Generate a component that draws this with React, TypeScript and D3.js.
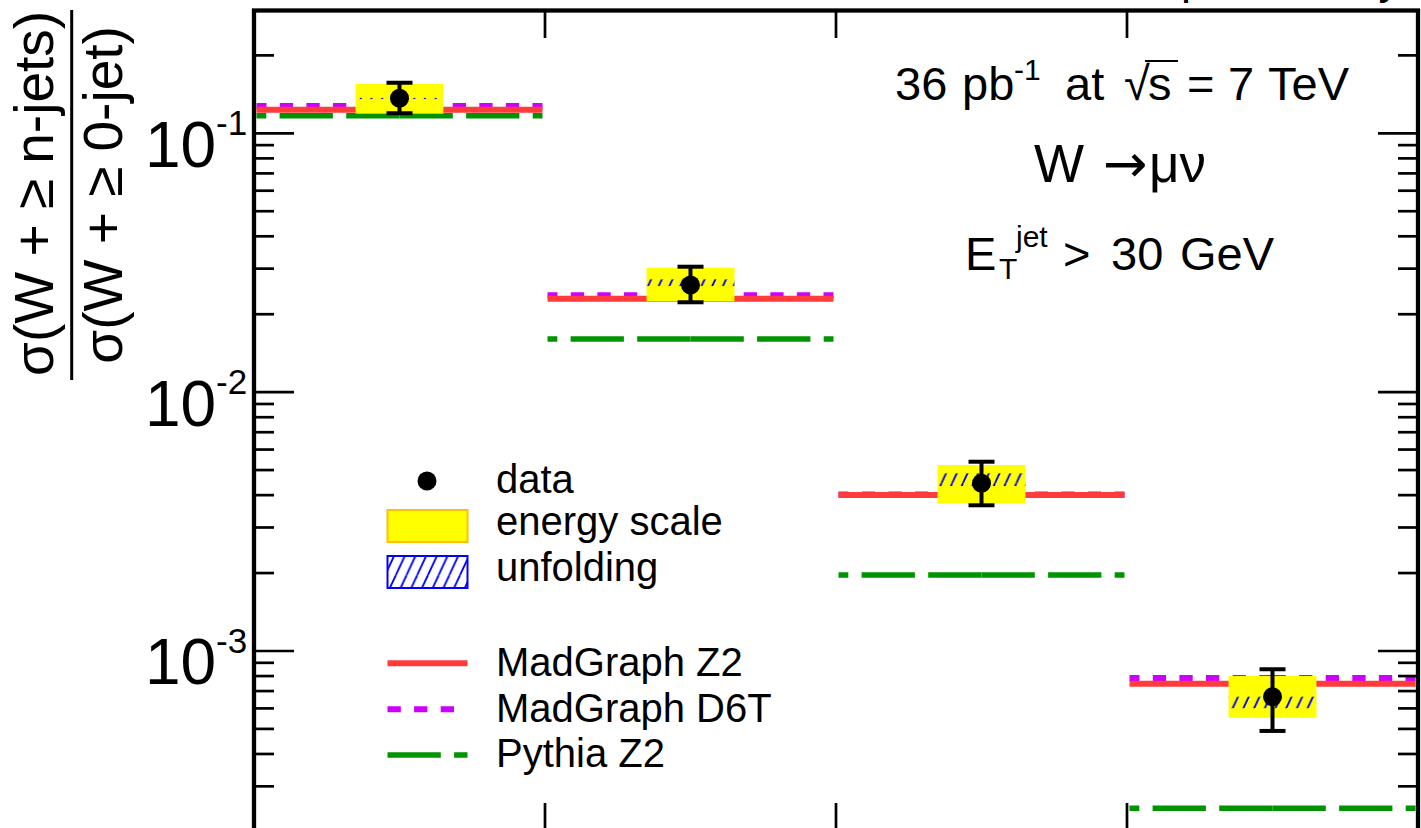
import React from 'react';
import * as d3 from 'd3';

// ---------- data ----------
const bins = [1, 2, 3, 4];
const dataValues = [0.1365, 0.02594, 0.004445, 0.000666];
const statUp = [0.1568, 0.03052, 0.005385, 0.00085];
const statDown = [0.1195, 0.02224, 0.003655, 0.000491];
const energyUp = [0.155, 0.03025, 0.005231, 0.0008];
const energyDown = [0.1191, 0.02244, 0.00372, 0.000552];
const unfoldUp = [0.137, 0.02729, 0.004859, 0.000666];
const unfoldDown = [0.136, 0.0257, 0.004338, 0.000601];
const madgraphZ2 = [0.1234, 0.02296, 0.004006, 0.000747];
const madgraphD6T = [0.1274, 0.02366, 0.00402, 0.000786];
const pythiaZ2 = [0.1169, 0.01605, 0.001966, 0.000247];
const yMajorTicks = [1e-1, 1e-2, 1e-3];
const yTickExponents = ['-1', '-2', '-3'];
const xTickEdges = [1.5, 2.5, 3.5];
const legendLabels = ['data', 'energy scale', 'unfolding', 'MadGraph Z2', 'MadGraph D6T', 'Pythia Z2'];

// ---------- layout ----------
const W = 1421;
const H = 828;
const FONT = "'Liberation Sans', Arial, Helvetica, sans-serif";
const RED = '#ff3b3b';
const MAGENTA = '#cc00ff';
const GREEN = '#009400';
const YELLOW = '#ffff00';
const BLUE = '#0000ff';

const x = d3.scaleLinear().domain([0.5, 4.5]).range([254, 1418]);
const y = d3.scaleLog().domain([2e-4, 0.3]).range([831.9, 9.8]);

const minorTicks: number[] = [];
for (let e = -4; e <= -1; e++) {
  for (let m = 2; m <= 9; m++) {
    const v = m * Math.pow(10, e);
    if (v > 2e-4 * 1.001 && v < 0.3 * 0.999) minorTicks.push(v);
  }
}

function ModelLine({ values, color, width, dash }: { values: number[]; color: string; width: number; dash?: string }) {
  return (
    <g>
      {bins.map((b, i) => {
        const cx = x(b);
        const left = x(b - 0.5) + 2.5;
        const right = x(b + 0.5) - 2.5;
        const yy = y(values[i]);
        if (!dash) {
          return <line key={i} x1={left} x2={right} y1={yy} y2={yy} stroke={color} strokeWidth={width} />;
        }
        return (
          <g key={i}>
            <line x1={cx} x2={right} y1={yy} y2={yy} stroke={color} strokeWidth={width} strokeDasharray={dash} />
            <line x1={cx} x2={left} y1={yy} y2={yy} stroke={color} strokeWidth={width} strokeDasharray={dash} />
          </g>
        );
      })}
    </g>
  );
}

export default function App() {
  const boxHalf = 0.151;
  const capHalf = 13;
  const legX0 = 387.5;
  const legX1 = 467.5;
  const legTextX = 496;
  const legRowY = [481, 526, 572, 663.3, 709.3, 755];
  const legBase = [493, 535, 581, 676, 722, 767];

  return (
    <svg width={W} height={H} style={{ position: 'absolute', left: 0, top: 0, background: '#fff' }} fontFamily={FONT}>
      <defs>
        <pattern id="hatch" patternUnits="userSpaceOnUse" width={10.7} height={23}>
          <line x1={0} y1={23} x2={10.7} y2={0} stroke={BLUE} strokeWidth={1.8} />
          <line x1={-10.7} y1={23} x2={0} y2={0} stroke={BLUE} strokeWidth={1.8} />
          <line x1={10.7} y1={23} x2={21.4} y2={0} stroke={BLUE} strokeWidth={1.8} />
        </pattern>
        <clipPath id="frameClip">
          <rect x={254} y={9.8} width={1164} height={822} />
        </clipPath>
      </defs>
      <rect x={0} y={0} width={W} height={H} fill="#fff" />

      {/* top cut-off title */}
      <text x={1401} y={-6.5} fontSize={45} textAnchor="end" fill="#000">CMS preliminary</text>

      <g clipPath="url(#frameClip)">
        <ModelLine values={madgraphD6T} color={MAGENTA} width={6} dash="13.3,13.3" />
        <ModelLine values={madgraphZ2} color={RED} width={6} />
        <ModelLine values={pythiaZ2} color={GREEN} width={5.5} dash="53.3,13.3" />

        {bins.map((b, i) => (
          <rect key={'e' + i} x={x(b - boxHalf)} width={x(b + boxHalf) - x(b - boxHalf)}
            y={y(energyUp[i])} height={y(energyDown[i]) - y(energyUp[i])} fill={YELLOW} />
        ))}
        {bins.map((b, i) => (
          <rect key={'u' + i} x={x(b - boxHalf)} width={x(b + boxHalf) - x(b - boxHalf)}
            y={y(unfoldUp[i])} height={Math.max(1.2, y(unfoldDown[i]) - y(unfoldUp[i]))} fill="url(#hatch)" />
        ))}
        {bins.map((b, i) => (
          <g key={'d' + i}>
            <line x1={x(b)} x2={x(b)} y1={y(statUp[i])} y2={y(statDown[i])} stroke="#000" strokeWidth={4} />
            <line x1={x(b) - capHalf} x2={x(b) + capHalf} y1={y(statUp[i])} y2={y(statUp[i])} stroke="#000" strokeWidth={4} />
            <line x1={x(b) - capHalf} x2={x(b) + capHalf} y1={y(statDown[i])} y2={y(statDown[i])} stroke="#000" strokeWidth={4} />
            <circle cx={x(b)} cy={y(dataValues[i])} r={9.5} fill="#000" />
          </g>
        ))}
      </g>

      {/* frame and ticks */}
      <rect x={254} y={10.5} width={1164} height={821.4} fill="none" stroke="#000" strokeWidth={4.3} />
      {yMajorTicks.map((v, i) => (
        <g key={'M' + i}>
          <line x1={254} x2={294} y1={y(v)} y2={y(v)} stroke="#000" strokeWidth={2.7} />
          <line x1={1378} x2={1418} y1={y(v)} y2={y(v)} stroke="#000" strokeWidth={2.7} />
        </g>
      ))}
      {minorTicks.map((v, i) => (
        <g key={'m' + i}>
          <line x1={254} x2={274} y1={y(v)} y2={y(v)} stroke="#000" strokeWidth={2.7} />
          <line x1={1398} x2={1418} y1={y(v)} y2={y(v)} stroke="#000" strokeWidth={2.7} />
        </g>
      ))}
      {xTickEdges.map((t, i) => (
        <g key={'x' + i}>
          <line x1={x(t)} x2={x(t)} y1={10.5} y2={38} stroke="#000" strokeWidth={2.7} />
          <line x1={x(t)} x2={x(t)} y1={803} y2={832} stroke="#000" strokeWidth={2.7} />
        </g>
      ))}

      {/* y tick labels */}
      {yMajorTicks.map((v, i) => (
        <text key={'l' + i} x={145} y={y(v) + 33.5} fontSize={64} fill="#000">
          10<tspan x={216} y={y(v) + 1.7} fontSize={35}>{yTickExponents[i]}</tspan>
        </text>
      ))}

      {/* y axis title */}
      <text transform="translate(53,193.5) rotate(-90)" textAnchor="middle" fontSize={55} fill="#000">σ(W + ≥ n-jets)</text>
      <line x1={71.7} x2={71.7} y1={10} y2={380} stroke="#000" strokeWidth={3} />
      <text transform="translate(122,195) rotate(-90)" textAnchor="middle" fontSize={55} fill="#000">σ(W + ≥ 0-jet)</text>

      {/* annotations */}
      <g fill="#000">
        <text y={100} fontSize={47}>
          <tspan x={895}>36</tspan>
          <tspan x={962}>pb</tspan>
          <tspan x={1014} y={80} fontSize={30}>-1</tspan>
          <tspan x={1065} y={100}>at</tspan>
          <tspan x={1124} y={100}>√</tspan>
          <tspan x={1148} y={100}>s</tspan>
          <tspan x={1187} y={100}>=</tspan>
          <tspan x={1228} y={100}>7</tspan>
          <tspan x={1268} y={100}>TeV</tspan>
        </text>
        <line x1={1145} x2={1178} y1={61} y2={61} stroke="#000" strokeWidth={2} />
        <text y={181.7} fontSize={53}>
          <tspan x={1034}>W</tspan>
          <tspan x={1103} fontFamily="'DejaVu Sans', sans-serif">→</tspan>
          <tspan x={1149}>μν</tspan>
        </text>
        <text y={270} fontSize={47}>
          <tspan x={965}>E</tspan>
          <tspan x={999} y={279} fontSize={30}>T</tspan>
          <tspan x={1016} y={247} fontSize={30}>jet</tspan>
          <tspan x={1063} y={270}>&gt;</tspan>
          <tspan x={1111} y={270}>30</tspan>
          <tspan x={1180} y={270}>GeV</tspan>
        </text>
      </g>

      {/* legend */}
      <circle cx={427} cy={legRowY[0]} r={9.5} fill="#000" />
      <rect x={legX0} y={legRowY[1] - 16} width={legX1 - legX0} height={32} fill={YELLOW} stroke="#ffc000" strokeWidth={2} />
      <rect x={legX0} y={legRowY[2] - 16} width={legX1 - legX0} height={32} fill="#fff" />
      <rect x={legX0} y={legRowY[2] - 16} width={legX1 - legX0} height={32} fill="url(#hatch)" stroke={BLUE} strokeWidth={2} />
      <line x1={legX0} x2={legX1} y1={legRowY[3]} y2={legRowY[3]} stroke={RED} strokeWidth={6} />
      <line x1={legX0} x2={legX1 - 12} y1={legRowY[4]} y2={legRowY[4]} stroke={MAGENTA} strokeWidth={6} strokeDasharray="13.3,13.3" />
      <line x1={legX0} x2={legX1} y1={legRowY[5]} y2={legRowY[5]} stroke={GREEN} strokeWidth={5.5} strokeDasharray="53.3,13.3" />
      {legendLabels.map((t, i) => (
        <text key={'t' + i} x={legTextX} y={legBase[i]} fontSize={40} fill="#000">{t}</text>
      ))}
    </svg>
  );
}
